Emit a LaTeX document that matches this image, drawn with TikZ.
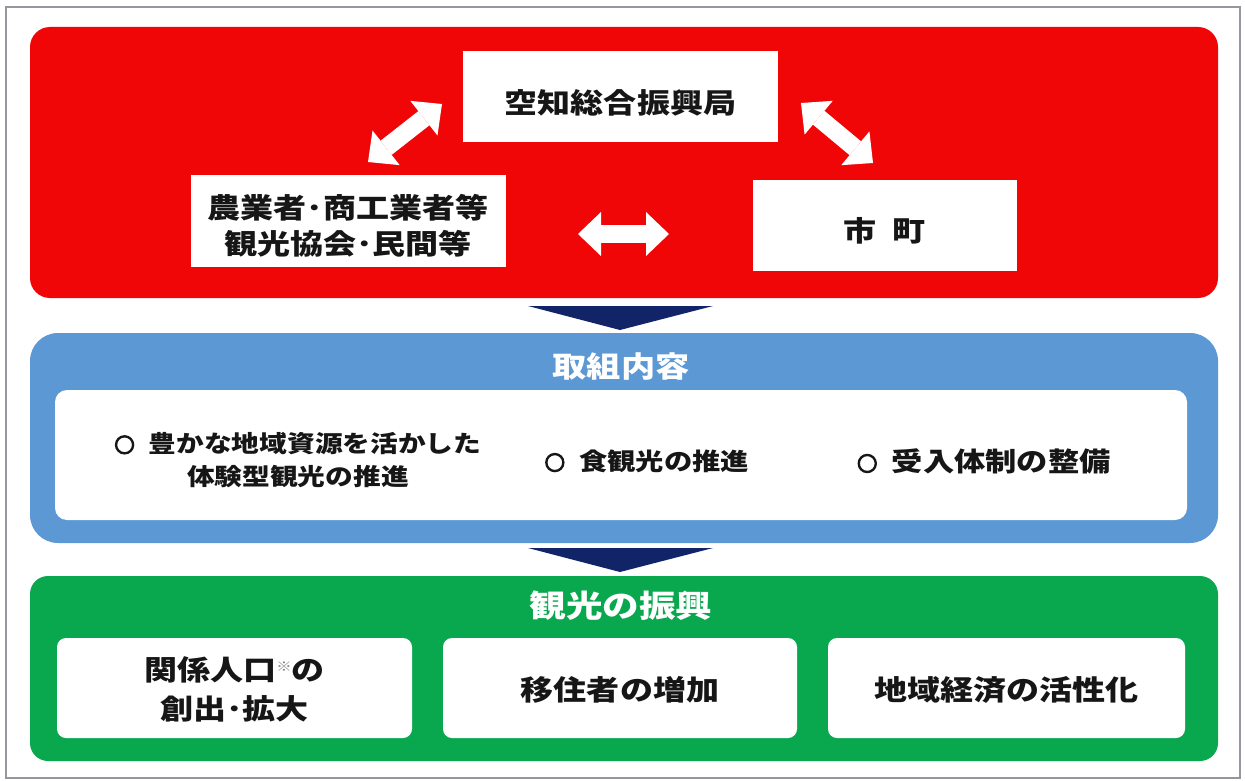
\documentclass[tikz,border=0pt]{standalone}
\usepackage{fontspec}
\newfontfamily\jp{Noto Sans CJK JP}[FakeStretch=1.18]
\newfontfamily\jpbul{Noto Sans CJK JP}[FakeBold=7]
\usetikzlibrary{arrows.meta}
\definecolor{pred}{RGB}{240,6,6}
\definecolor{pblue}{RGB}{91,152,212}
\definecolor{pgreen}{RGB}{10,168,78}
\definecolor{navy}{RGB}{18,36,104}
\definecolor{ink}{RGB}{22,22,22}
\definecolor{frame}{RGB}{150,150,158}
\newcommand{\fs}[2]{\fontsize{#1}{#2}\selectfont}
\newcommand{\bul}{{\jpbul\bfseries\fs{20}{20}○}}
\begin{document}
\begin{tikzpicture}[x=1pt,y=-1pt,
  every node/.style={font=\jp\bfseries\fs{28}{36}, text=ink, align=center, inner sep=0pt, outer sep=0pt},
  panel/.style={rounded corners=20pt, draw=none},
  wbox/.style={fill=white, draw=none},
  gbox/.style={fill=white, draw=none, rounded corners=9pt, minimum height=100pt},
  dbl/.style={draw=white, line width=18pt,
    {Triangle[length=23pt,width=44pt,line width=0pt]}-{Triangle[length=23pt,width=44pt,line width=0pt]}},
  ptitle/.style={text=white, font=\jp\bfseries\fs{29}{36}},
  item/.style={font=\jp\bfseries\fs{23.5}{33}}
]
\useasboundingbox (0,0) rectangle (1245,781);
\fill[white] (0,0) rectangle (1245,781);
\draw[frame, line width=1.5pt] (6,7) rectangle (1240,778);

% red panel
\node[panel, fill=pred, minimum width=1188pt, minimum height=271pt] (redp) at (624,162.5) {};
\node[wbox, minimum width=315pt, minimum height=91pt] (sora) at (620.5,96.5) {};
\node[wbox, minimum width=315pt, minimum height=92pt] (farm) at (348,220.5) {};
\node[wbox, minimum width=264pt, minimum height=91pt] (city) at (884.5,225) {};
\node (soraT) at ([yshift=-6pt]sora.center) {空知総合振興局};
\node (farmT) at ([yshift=-5pt]farm.center) {農業者･商工業者等\\観光協会･民間等};
\node (cityT) at ([yshift=-6pt]city.center) {市\hspace{0.6em}町};

\coordinate (a1) at (368,162); \coordinate (a2) at (442,104);
\coordinate (b1) at (801,103); \coordinate (b2) at (873,163);
\coordinate (c1) at (578,234); \coordinate (c2) at (669,234);
\draw[dbl] (a1) -- (a2);
\draw[dbl] (b1) -- (b2);
\draw[dbl] (c1) -- (c2);

% chevron 1
\fill[navy] (528,306) -- (713,306) -- (620,330) -- cycle;

% blue panel
\node[panel, fill=pblue, rounded corners=28pt, minimum width=1188pt, minimum height=210pt] (bluep) at (624,438) {};
\node[ptitle] (t1) at (621,367) {取組内容};
\node[wbox, rounded corners=12pt, minimum width=1132pt, minimum height=130pt] (binner) at (621,455) {};
\node[item] (i1) at (298,460) {\bul\hspace{0.6em}豊かな地域資源を活かした\\体験型観光の推進};
\node[item, font=\jp\bfseries\fs{24}{33}] (i2) at (647,461) {\bul\hspace{0.6em}食観光の推進};
\node[font=\jp\bfseries\fs{26.5}{33}] (i3) at (984,461) {\bul\hspace{0.55em}受入体制の整備};

% chevron 2
\fill[navy] (528,548) -- (713,548) -- (620,572) -- cycle;

% green panel
\node[panel, fill=pgreen, rounded corners=18pt, minimum width=1188pt, minimum height=185pt] (greenp) at (624,668.5) {};
\node[ptitle, font=\jp\bfseries\fs{31}{36}] (t2) at (621,606) {観光の振興};
\node[gbox, minimum width=355pt] (g1) at (234.5,688) {};
\node[gbox, minimum width=354pt] (g2) at (620,688) {};
\node[gbox, minimum width=357pt] (g3) at (1006.5,688) {};
\node (g1T) at ([yshift=-1pt]g1.center) {関係人口\raisebox{9pt}{\fs{13}{13}\color{gray}※}の\\[3pt]創出･拡大};
\node (g2T) at ([yshift=-2pt]g2.center) {移住者の増加};
\node (g3T) at ([yshift=-2pt]g3.center) {地域経済の活性化};
\end{tikzpicture}
\end{document}
